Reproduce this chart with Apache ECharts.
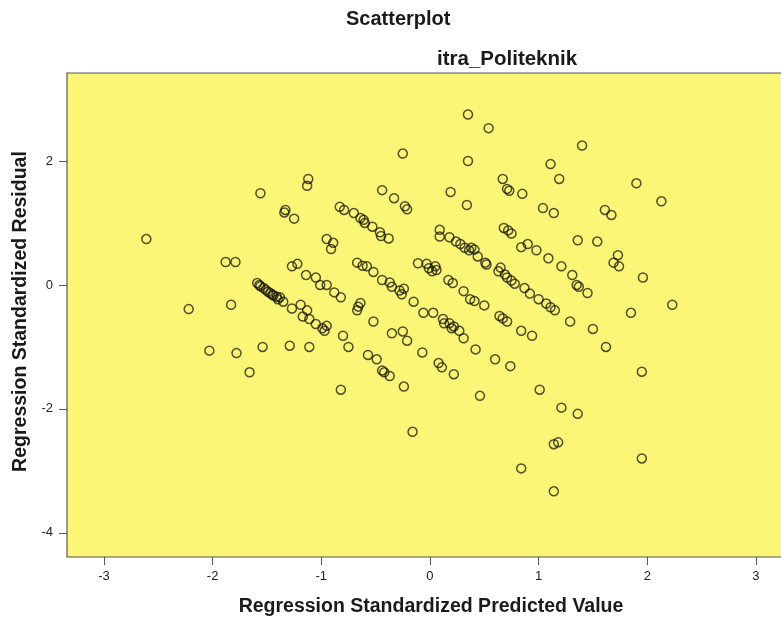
<!DOCTYPE html>
<html>
<head>
<meta charset="utf-8">
<script src="https://cdn.jsdelivr.net/npm/echarts@6/dist/echarts.min.js"></script>
<style>html,body{margin:0;padding:0;background:#fff;}#c{width:781px;height:617px;}</style>
</head>
<body>
<div id="c"></div>
<script>
// Regression Standardized Predicted Value
var predicted = [
-2.61,-2.22,-1.83,-2.03,-1.78,-1.54,-1.29,-1.11,-1.66,-1.88,-1.79,-1.56,-1.12,-1.13,-1.33,-1.34,-1.25,-1.27,-1.22,-1.14,-1.05,-0.95,-0.89,-0.91,-1.01,-0.95,-0.88,-0.82,
-1.59,-1.57,-1.56,-1.53,-1.51,-1.49,-1.47,-1.45,-1.44,-1.41,-1.40,-1.38,-1.35,-1.27,-1.19,-1.13,-1.17,-1.11,-1.05,-0.99,-0.95,-0.97,-0.80,-0.75,-0.82,
-0.44,-0.33,-0.23,-0.21,-0.25,-0.83,-0.79,-0.70,-0.64,-0.61,-0.60,-0.53,-0.46,-0.45,-0.38,
-0.67,-0.62,-0.58,-0.52,-0.44,-0.37,-0.35,-0.28,-0.26,-0.24,-0.15,-0.06,0.03,0.12,0.13,0.18,0.20,0.22,0.27,0.31,
-0.64,-0.66,-0.67,-0.52,-0.35,-0.25,-0.21,-0.57,-0.49,-0.44,-0.42,-0.37,-0.24,-0.16,-0.07,0.08,0.11,0.22,
-0.11,-0.03,-0.01,0.02,0.05,0.06,0.17,0.21,0.31,0.37,0.41,0.50,0.64,0.67,0.71,0.84,0.94,
0.42,0.46,0.60,0.74,1.01,1.21,1.36,1.14,1.18,1.14,0.84,1.95,1.95,1.62,1.29,1.50,1.85,2.23,1.96,
0.09,0.09,0.18,0.24,0.28,0.32,0.36,0.38,0.41,0.44,0.51,0.52,0.63,0.65,0.69,0.71,0.75,0.78,0.87,0.92,1.00,1.07,1.11,1.15,
0.35,0.54,0.35,0.19,0.34,0.67,0.71,0.73,0.85,1.04,1.14,0.68,0.72,0.75,0.84,0.90,0.98,1.09,1.21,1.31,1.35,1.37,1.45,
1.36,1.54,1.73,1.69,1.74,1.61,1.67,1.90,2.13,1.40,1.11,1.19
];
// Regression Standardized Residual
var residual = [
0.74,-0.39,-0.32,-1.06,-1.10,-1.00,-0.98,-1.00,-1.41,0.37,0.37,1.48,1.71,1.60,1.21,1.17,1.07,0.30,0.34,0.16,0.12,0.74,0.68,0.58,0.00,0.00,-0.12,-0.20,
0.03,0.00,-0.02,-0.05,-0.08,-0.11,-0.13,-0.16,-0.17,-0.19,-0.23,-0.20,-0.27,-0.38,-0.32,-0.41,-0.51,-0.55,-0.63,-0.70,-0.66,-0.74,-0.82,-1.00,-1.69,
1.53,1.40,1.27,1.22,2.12,1.26,1.21,1.16,1.08,1.05,1.00,0.94,0.85,0.79,0.75,
0.36,0.31,0.30,0.21,0.08,0.04,-0.03,-0.09,-0.15,-0.06,-0.27,-0.45,-0.45,-0.55,-0.62,-0.62,-0.70,-0.67,-0.74,-0.86,
-0.29,-0.35,-0.41,-0.59,-0.78,-0.75,-0.90,-1.13,-1.20,-1.38,-1.41,-1.47,-1.64,-2.37,-1.09,-1.26,-1.33,-1.44,
0.35,0.34,0.27,0.22,0.30,0.24,0.08,0.03,-0.10,-0.23,-0.26,-0.33,-0.50,-0.54,-0.59,-0.74,-0.82,
-1.04,-1.79,-1.20,-1.31,-1.69,-1.98,-2.08,-2.57,-2.54,-3.33,-2.96,-2.80,-1.40,-1.00,-0.59,-0.71,-0.45,-0.32,0.12,
0.89,0.78,0.77,0.70,0.66,0.60,0.56,0.60,0.57,0.46,0.36,0.33,0.22,0.28,0.17,0.12,0.07,0.02,-0.05,-0.14,-0.23,-0.30,-0.36,-0.41,
2.75,2.53,2.00,1.50,1.29,1.71,1.55,1.52,1.47,1.24,1.16,0.92,0.88,0.83,0.61,0.66,0.56,0.43,0.30,0.16,0.00,-0.03,-0.13,
0.72,0.70,0.48,0.36,0.30,1.21,1.13,1.64,1.35,2.25,1.95,1.71
];
var xTicks = [-3,-2,-1,0,1,2,3];
var yTicks = [-4,-2,0,2];
var chartTitle = 'Scatterplot';
var chartSubtitle = 'itra_Politeknik';
var xName = 'Regression Standardized Predicted Value';
var yName = 'Regression Standardized Residual';

var points = predicted.map(function(v,i){ return [v, residual[i]]; });
var font = '"Liberation Sans", Arial, sans-serif';
var chart = echarts.init(document.getElementById('c'));
chart.setOption({
  animation: false,
  backgroundColor: '#ffffff',
  title: [
    {text: chartTitle, left: 346, top: 9, padding: 0,
     textStyle: {fontFamily: font, fontSize: 20, fontWeight: 'bold', color: '#1a1a1a'}},
    {text: chartSubtitle, left: 437, top: 49, padding: 0,
     textStyle: {fontFamily: font, fontSize: 20.5, fontWeight: 'bold', color: '#1a1a1a'}}
  ],
  grid: {left: 67, top: 73, width: 740, height: 484, show: true, outerBoundsMode: 'none',
         backgroundColor: '#FBF676', borderColor: '#555555', borderWidth: 1.2, containLabel: false},
  xAxis: {
    type: 'value', min: -3.34, max: 3.47,
    name: xName, nameLocation: 'middle', nameGap: 40,
    nameTextStyle: {fontFamily: font, fontSize: 19.5, fontWeight: 'bold', color: '#1a1a1a', padding: [0, 12, 0, 0]},
    splitLine: {show: false},
    axisLine: {show: false, onZero: false},
    axisTick: {show: true, customValues: xTicks, length: 8, lineStyle: {color: '#555555', width: 1}},
    axisLabel: {customValues: xTicks, margin: 13, fontFamily: font, fontSize: 13, color: '#222222'}
  },
  yAxis: {
    type: 'value', min: -4.39, max: 3.42,
    name: yName, nameLocation: 'middle', nameGap: 35,
    nameTextStyle: {fontFamily: font, fontSize: 19.5, fontWeight: 'bold', color: '#1a1a1a', padding: [0, 0, 0, 7]},
    splitLine: {show: false},
    axisLine: {show: false, onZero: false},
    axisTick: {show: true, customValues: yTicks, length: 8, lineStyle: {color: '#555555', width: 1}},
    axisLabel: {customValues: yTicks, margin: 14, fontFamily: font, fontSize: 13, color: '#222222'}
  },
  series: [{
    type: 'scatter',
    data: points,
    symbol: 'circle',
    symbolSize: 9,
    clip: false,
    itemStyle: {color: 'rgba(0,0,0,0)', borderColor: 'rgba(15,15,5,0.9)', borderWidth: 1.5}
  }]
});
</script>
</body>
</html>
